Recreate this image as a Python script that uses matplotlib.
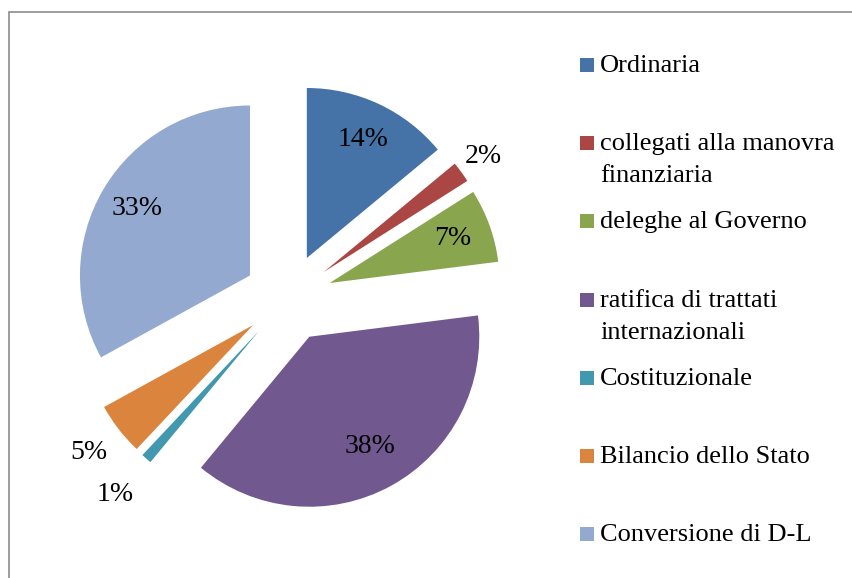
import matplotlib.pyplot as plt
from matplotlib.patches import Rectangle
import numpy as np

# Dati
categorie = ["Ordinaria", "collegati alla manovra\nfinanziaria", "deleghe al Governo",
             "ratifica di trattati\ninternazionali", "Costituzionale",
             "Bilancio dello Stato", "Conversione di D-L"]
valori = [14, 2, 7, 38, 1, 5, 33]
colori = ["#4572A7", "#AA4643", "#89A54E", "#71588F", "#4198AF", "#DB843D", "#93A9CF"]
# distanza etichetta dal vertice dello spicchio (in raggi)
dist_etichette = [0.77, 1.16, 0.77, 0.74, 1.28, 1.22, 0.77]

W, H = 852, 578
cx, cy, R = 288, 298, 170   # centro e raggio in pixel

plt.rcParams['font.family'] = ['Liberation Serif', 'DejaVu Serif']

fig = plt.figure(figsize=(W / 100, H / 100), dpi=100)
ax = fig.add_axes([0, 0, 1, 1])

wedges, _ = ax.pie(valori, colors=colori, startangle=90, counterclock=False,
                   explode=[0.26] * len(valori), radius=1,
                   wedgeprops=dict(linewidth=0))

# limiti dopo pie() (pie li reimposta)
ax.set_xlim(-cx / R, (W - cx) / R)
ax.set_ylim(-(H - cy) / R, cy / R)
ax.set_aspect('equal', adjustable='datalim')
ax.axis('off')

for w, v, d in zip(wedges, valori, dist_etichette):
    mid = np.deg2rad((w.theta1 + w.theta2) / 2)
    x = w.center[0] + d * np.cos(mid)
    y = w.center[1] + d * np.sin(mid)
    ax.text(x, y, f"{v}%", ha='center', va='center', fontsize=20, color='black')

# cornice grigia (tagliata a destra e in basso)
fig.patches.append(Rectangle((9 / W, -0.1), 1.2, 1.1 - 12 / H, transform=fig.transFigure,
                             fill=False, edgecolor='#8C8C8C', linewidth=1.2))

# legenda manuale
base0, passo, riga = 72, 78.2, 32
for i, (lab, col) in enumerate(zip(categorie, colori)):
    yb = base0 + i * passo
    fig.patches.append(Rectangle((580 / W, 1 - yb / H), 14 / W, 14 / H,
                                 transform=fig.transFigure, facecolor=col, edgecolor='none'))
    for j, parte in enumerate(lab.split("\n")):
        fig.text(600 / W, 1 - (yb + j * riga) / H, parte, ha='left', va='baseline',
                 fontsize=19, color='black')

fig.savefig("out.png", dpi=100)
